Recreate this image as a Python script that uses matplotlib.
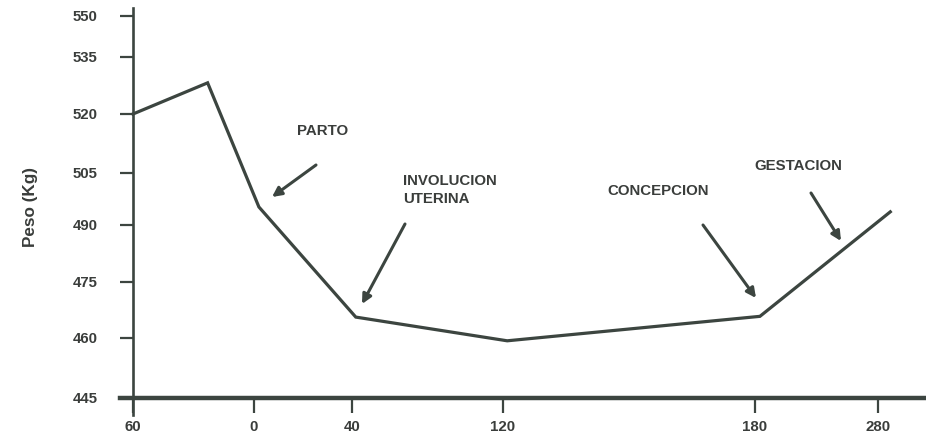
import numpy as np
import matplotlib
matplotlib.use("Agg")
import matplotlib.pyplot as plt

# data (days relative to calving, body weight kg)
days = [-60, -23, 2, 42, 121, 184, 290]
weight = [520, 528.2, 495.2, 465.6, 459.3, 465.8, 493.8]

x_ticks = [-60, 0, 40, 120, 180, 280]
x_labels = ["60", "0", "40", "120", "180", "280"]
y_ticks = [445, 460, 475, 490, 505, 520, 535, 550]

notes = ["PARTO", "INVOLUCION\nUTERINA", "CONCEPCION", "GESTACION"]

# the original axis is not linear: where each tick sits (pixels)
x_tick_px = [133, 254, 352, 503, 755, 878]
y_tick_px = [398, 338, 282, 225, 173, 114, 57, 16]

W, H = 926, 441
INK = "#3a3d3b"
LINE = "#3c4540"


def piecewise(vals, pos):
    vals = np.asarray(vals, float)
    pos = np.asarray(pos, float)

    def conv(v, a, b):
        v = np.asarray(v, float)
        out = np.interp(v, a, b)
        s0 = (b[1] - b[0]) / (a[1] - a[0])
        s1 = (b[-1] - b[-2]) / (a[-1] - a[-2])
        out = np.where(v < a[0], b[0] + (v - a[0]) * s0, out)
        out = np.where(v > a[-1], b[-1] + (v - a[-1]) * s1, out)
        return out

    fwd = lambda v: conv(v, vals, pos)
    inv = lambda p: conv(p, pos, vals)
    return fwd, inv


xf, xi = piecewise(x_ticks, x_tick_px)
yf, yi = piecewise(y_ticks, [-p for p in y_tick_px])

fig = plt.figure(figsize=(W / 100, H / 100), dpi=100)
left, right, top, bottom = 118, 926, 8, 415
ax = fig.add_axes([left / W, (H - bottom) / H, (right - left) / W, (bottom - top) / H])
ax.set_xscale("function", functions=(xf, xi))
ax.set_yscale("function", functions=(yf, yi))
ax.set_xlim(float(xi(left)), float(xi(right)))
ax.set_ylim(float(yi(-bottom)), float(yi(-top)))

ax.plot(days, weight, color=LINE, lw=2.3, solid_joinstyle="miter", clip_on=False)

for s in ["top", "right"]:
    ax.spines[s].set_visible(False)
ax.spines["left"].set_position(("data", -60))
ax.spines["left"].set_linewidth(1.9)
ax.spines["left"].set_color(LINE)
ax.spines["bottom"].set_position(("data", 445))
ax.spines["bottom"].set_bounds(float(xi(120)), float(xi(right)))
ax.spines["bottom"].set_linewidth(3.2)
ax.spines["bottom"].set_color(LINE)

tick_font = dict(family="Liberation Sans", weight="bold", size=10.8)
ax.set_yticks(y_ticks)
ax.set_yticklabels([str(v) for v in y_ticks], fontdict=tick_font, color=INK)
ax.set_xticks(x_ticks)
ax.set_xticklabels(x_labels, fontdict=tick_font, color=INK)
ax.tick_params(axis="y", length=9.5, width=1.6, color=LINE, pad=16)
ax.tick_params(axis="x", length=10.5, width=1.6, color=LINE, pad=5)
ax.minorticks_off()

fig.text(30 / W, (H - 207) / H, "Peso (Kg)", rotation=90, ha="center", va="center",
         family="Liberation Sans", weight="bold", size=12.3, color=INK)

note_font = dict(family="Liberation Sans", weight="bold", size=10.8, color=INK)
ax.annotate(notes[0], xy=(323, H - 131), xycoords="figure pixels", ha="center", va="center", **note_font)
ax.annotate(notes[1], xy=(403, H - 190), xycoords="figure pixels", ha="left", va="center",
            linespacing=1.3, **note_font)
ax.annotate(notes[2], xy=(607, H - 191), xycoords="figure pixels", ha="left", va="center", **note_font)
ax.annotate(notes[3], xy=(754, H - 166), xycoords="figure pixels", ha="left", va="center", **note_font)

arrows = [((316, 165), (272, 197)), ((405, 224), (362, 304)),
          ((703, 225), (756, 298)), ((811, 193), (841, 241))]
for tail, tip in arrows:
    ax.annotate("", xy=(tip[0], H - tip[1]), xytext=(tail[0], H - tail[1]),
                xycoords="figure pixels", textcoords="figure pixels",
                arrowprops=dict(arrowstyle="-|>", lw=2.2, color=LINE, mutation_scale=14,
                                shrinkA=0, shrinkB=0))

fig.savefig("out.png", dpi=100)
